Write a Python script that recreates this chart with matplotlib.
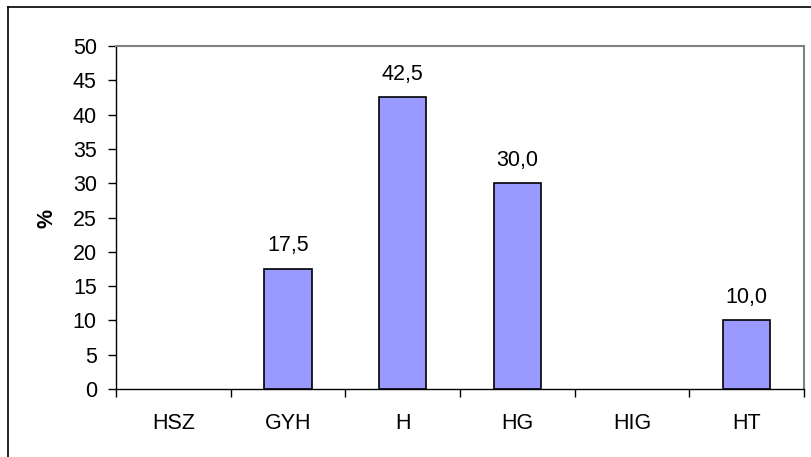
import matplotlib.pyplot as plt
from matplotlib.lines import Line2D

categories = ["HSZ", "GYH", "H", "HG", "HIG", "HT"]
values = [0.0, 17.5, 42.5, 30.0, 0.0, 10.0]
yticks = [0, 5, 10, 15, 20, 25, 30, 35, 40, 45, 50]

plt.rcParams['font.family'] = ['Liberation Sans', 'DejaVu Sans']
FS = 15.5

fig = plt.figure(figsize=(8.11, 4.57), dpi=100)
ax = fig.add_axes([116 / 811, 1 - 389 / 457, (804 - 116) / 811, (389 - 46) / 457])

x = list(range(len(categories)))
# empty categories get no outline so nothing shows on the baseline
edge_w = [1.2 if v > 0 else 0 for v in values]
ax.bar(x, values, width=0.41, color='#9999FF', edgecolor='black', linewidth=edge_w, zorder=3)

# value labels only on non-empty bars, decimal comma
for xi, v in zip(x, values):
    if v > 0:
        ax.annotate(f"{v:.1f}".replace('.', ','), (xi, v), xytext=(0, 9),
                    textcoords='offset points', ha='center', va='bottom', fontsize=FS)

ax.set_xlim(-0.5, len(categories) - 0.5)
ax.set_ylim(0, 50)
ax.set_yticks(yticks)
ax.set_yticklabels([str(t) for t in yticks], fontsize=FS)
ax.tick_params(axis='y', direction='out', length=5.8, width=1, pad=8)

ax.set_xticks(x)
ax.set_xticklabels(categories, fontsize=FS)
ax.tick_params(axis='x', length=0, pad=17)
ax.set_xticks([i - 0.5 for i in range(len(categories) + 1)], minor=True)
ax.tick_params(axis='x', which='minor', direction='out', length=5.8, width=1)

ax.set_ylabel('%', fontsize=FS, fontweight='bold', va='center')
ax.yaxis.set_label_coords((47 - 116) / 688, (389 - 218) / 343)

for side in ['left', 'bottom']:
    ax.spines[side].set_color('black')
    ax.spines[side].set_linewidth(1)
for side in ['top', 'right']:
    ax.spines[side].set_color('#808080')
    ax.spines[side].set_linewidth(1.5)

# chart frame (left and top edges)
fig.add_artist(Line2D([8 / 811, 8 / 811], [0, 1 - 7 / 457], color='black', lw=1.2,
                      transform=fig.transFigure))
fig.add_artist(Line2D([8 / 811, 1], [1 - 7 / 457, 1 - 7 / 457], color='black', lw=1.2,
                      transform=fig.transFigure))

fig.savefig('out.png', dpi=100)
